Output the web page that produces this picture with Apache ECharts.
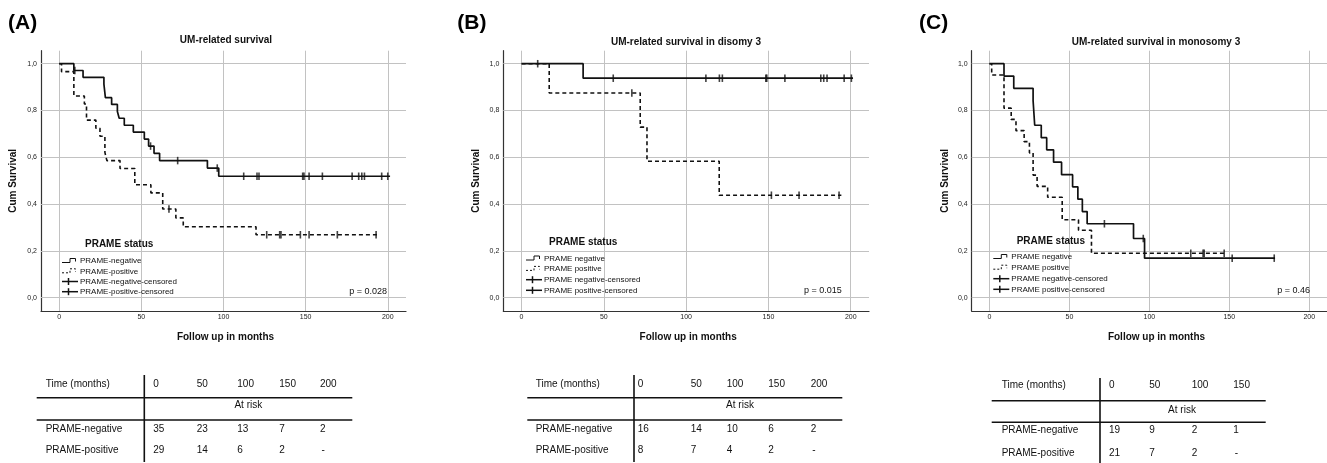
<!DOCTYPE html>
<html><head><meta charset="utf-8">
<script src="https://cdn.jsdelivr.net/npm/echarts@6/dist/echarts.min.js"></script>
<style>html,body{margin:0;padding:0;background:#fff}#c{width:1327px;height:463px}</style>
</head><body><div id="c"></div>
<script>
// ---------- data ----------
const xTicks = [0, 50, 100, 150, 200];
const yTicks = [0, 0.2, 0.4, 0.6, 0.8, 1.0];
const panelLabels = ['(A)', '(B)', '(C)'];
const panelTitles = ['UM-related survival', 'UM-related survival in disomy 3', 'UM-related survival in monosomy 3'];
const pValues = ['p = 0.028', 'p = 0.015', 'p = 0.46'];
const yAxisName = 'Cum Survival';
const xAxisName = 'Follow up in months';
const legendTitle = 'PRAME status';
const legendNamesA = ['PRAME-negative', 'PRAME-positive', 'PRAME-negative-censored', 'PRAME-positive-censored'];
const legendNamesBC = ['PRAME negative', 'PRAME positive', 'PRAME negative-censored', 'PRAME positive-censored'];

// Panel A
const aNegTime = [0, 8.9, 14.5, 27.2, 28.1, 31.9, 35.4, 36.5, 39.6, 45.1, 51.8, 54.4, 57.7, 61.1, 90.2, 97.1, 201.4];
const aNegSurv = [1, 0.971, 0.942, 0.913, 0.855, 0.826, 0.796, 0.767, 0.737, 0.708, 0.678, 0.648, 0.617, 0.586, 0.554, 0.519, 0.519];
const aNegCens = [9.5, 55.6, 72.1, 96.2, 112.3, 120.4, 121.6, 148.2, 149.0, 152.1, 160.2, 178.3, 182.3, 184.2, 185.8, 196.3, 200.0];
const aPosTime = [0, 1.4, 8.9, 15.3, 16.6, 22.3, 24.8, 27.8, 29.0, 37.0, 46.0, 55.8, 63.0, 71.0, 75.5, 119.8, 193.9];
const aPosSurv = [1, 0.966, 0.862, 0.828, 0.759, 0.724, 0.690, 0.621, 0.586, 0.552, 0.483, 0.448, 0.379, 0.341, 0.303, 0.269, 0.269];
const aPosCens = [66.8, 126.3, 134.2, 135.0, 146.8, 152.1, 169.3, 192.9];

// Panel B
const bNegTime = [0, 37.4, 201.4];
const bNegSurv = [1, 0.938, 0.938];
const bNegCens = [9.8, 55.7, 112.0, 120.2, 122.0, 148.4, 149.0, 160.0, 181.8, 183.6, 185.6, 196.0, 200.4];
const bPosTime = [0, 16.8, 72.1, 76.2, 120.1, 194.3];
const bPosSurv = [1, 0.875, 0.729, 0.583, 0.438, 0.438];
const bPosCens = [67.0, 151.8, 168.6, 192.9];

// Panel C
const cNegTime = [0, 9.1, 15.2, 27.3, 28.3, 32.4, 35.8, 40.1, 45.1, 52.0, 55.3, 58.1, 61.1, 90.1, 97.0, 178.6];
const cNegSurv = [1, 0.947, 0.895, 0.842, 0.737, 0.684, 0.632, 0.579, 0.526, 0.474, 0.421, 0.368, 0.316, 0.253, 0.169, 0.169];
const cNegCens = [71.9, 96.2, 151.8, 178.1];
const cPosTime = [0, 1.4, 9.1, 13.6, 16.6, 21.7, 25.0, 27.3, 29.8, 36.4, 45.5, 55.7, 63.8, 147.8];
const cPosSurv = [1, 0.952, 0.810, 0.762, 0.714, 0.667, 0.619, 0.524, 0.476, 0.429, 0.333, 0.288, 0.190, 0.190];
const cPosCens = [125.9, 133.6, 134.3, 146.8];

// At-risk tables
const tableHeader = 'Time (months)';
const atRiskLabel = 'At risk';
const rowLabels = ['PRAME-negative', 'PRAME-positive'];
const tableTimesA = ['0', '50', '100', '150', '200'];
const riskNegA = ['35', '23', '13', '7', '2'];
const riskPosA = ['29', '14', '6', '2', '-'];
const tableTimesB = ['0', '50', '100', '150', '200'];
const riskNegB = ['16', '14', '10', '6', '2'];
const riskPosB = ['8', '7', '4', '2', '-'];
const tableTimesC = ['0', '50', '100', '150'];
const riskNegC = ['19', '9', '2', '1'];
const riskPosC = ['21', '7', '2', '-'];

// ---------- layout ----------
const FONT = '"Liberation Sans", Arial, sans-serif';
const INK = '#111';
const panels = [
  { neg: [aNegTime, aNegSurv, aNegCens], pos: [aPosTime, aPosSurv, aPosCens], legend: legendNamesA,
    table: { times: tableTimesA, neg: riskNegA, pos: riskPosA },
    L: { gl: 41, gw: 365, lab: [8, 23.3], ttl: [226, 40.7], yName: 13.3, xName: 337,
         leg: { tx: 85, ty: 244, ix: 62, rows: [261, 271.3, 281.5, 291.7] }, p: [387, 292],
         tbl: { lx: 45.7, vx: 144.3, vy0: 375, vy1: 462, h0: 36.7, h1: 352.3, cols: [153.3, 196.7, 237.3, 279.3, 320], ar: 248.3,
                ys: [384.3, 397.7, 405.7, 420, 429, 450.3] } } },
  { neg: [bNegTime, bNegSurv, bNegCens], pos: [bPosTime, bPosSurv, bPosCens], legend: legendNamesBC,
    table: { times: tableTimesB, neg: riskNegB, pos: riskPosB },
    L: { gl: 503.3, gw: 365.7, lab: [457.3, 23.3], ttl: [686, 42.3], yName: 476.7, xName: 337,
         leg: { tx: 549, ty: 242.3, ix: 526, rows: [258.5, 268.9, 279.7, 290.3] }, p: [841.7, 290.5],
         tbl: { lx: 535.7, vx: 634, vy0: 375, vy1: 462, h0: 527.3, h1: 842.3, cols: [637.7, 690.7, 726.7, 768.3, 810.7], ar: 740,
                ys: [384.6, 397.7, 405.7, 420, 429, 450.7] } } },
  { neg: [cNegTime, cNegSurv, cNegCens], pos: [cPosTime, cPosSurv, cPosCens], legend: legendNamesBC,
    table: { times: tableTimesC, neg: riskNegC, pos: riskPosC },
    L: { gl: 971.7, gw: 365.6, lab: [919, 23.3], ttl: [1156, 42], yName: 945, xName: 337,
         leg: { tx: 1016.7, ty: 241, ix: 993.3, rows: [257, 267.7, 278.7, 289.3] }, p: [1310, 291],
         tbl: { lx: 1001.7, vx: 1100, vy0: 378, vy1: 463, h0: 991.7, h1: 1265.7, cols: [1109, 1149.3, 1191.7, 1233.3], ar: 1182,
                ys: [385.7, 400.7, 410, 422.3, 430.7, 453.3] } } }
];
const GRID_TOP = 50.7, GRID_H = 260.3;
const X_MIN = -11.1, X_MAX = 211.1, Y_MIN = -0.0568, Y_MAX = 1.0556;

// ---------- helpers ----------
function survAt(T, S, t) { let s = S[0]; for (let i = 0; i < T.length; i++) { if (T[i] <= t) s = S[i]; } return s; }
function pairs(T, S) { return T.map((t, i) => [t, S[i]]); }
function censorPts(T, S, C) { return C.map(t => [t, survAt(T, S, t)]); }
function txt(x, y, text, size, o) {
  o = o || {};
  const al = o.align || 'left';
  return { type: 'text', x: x, y: y, rotation: o.rot || 0, silent: true, z: 10,
    style: { text: text, font: (o.bold ? 'bold ' : '') + size + 'px ' + FONT, fill: o.fill || INK,
      align: al, verticalAlign: 'middle', textAlign: al, textVerticalAlign: 'middle' } };
}
function ln(x1, y1, x2, y2, w, dash) {
  return { type: 'line', silent: true, z: 10, shape: { x1, y1, x2, y2 }, style: { stroke: INK, lineWidth: w || 1, lineDash: dash || null } };
}
function pl(points, w, dash) {
  return { type: 'polyline', silent: true, z: 10, shape: { points }, style: { stroke: INK, fill: null, lineWidth: w || 1, lineDash: dash || null } };
}

const grids = [], xAxes = [], yAxes = [], series = [], graphics = [];
panels.forEach((P, i) => {
  const L = P.L;
  grids.push({ left: L.gl, top: GRID_TOP, width: L.gw, height: GRID_H, containLabel: false });
  xAxes.push({ type: 'value', gridIndex: i, min: X_MIN, max: X_MAX,
    axisLine: { show: true, onZero: false, lineStyle: { color: '#333', width: 1.2 } },
    axisTick: { show: false, customValues: xTicks },
    axisLabel: { customValues: xTicks, fontSize: 7, color: '#222', margin: 3, fontFamily: FONT },
    splitLine: { show: false } });
  yAxes.push({ type: 'value', gridIndex: i, min: Y_MIN, max: Y_MAX,
    axisLine: { show: true, onZero: false, lineStyle: { color: '#333', width: 1.2 } },
    axisTick: { show: false, customValues: yTicks },
    axisLabel: { customValues: yTicks, fontSize: 7, color: '#222', margin: 4, fontFamily: FONT,
      formatter: v => v.toFixed(1).replace('.', ',') },
    splitLine: { show: false } });
  const [nT, nS, nC] = P.neg, [pT, pS, pC] = P.pos;
  series.push({ type: 'line', xAxisIndex: i, yAxisIndex: i, step: 'end', showSymbol: false, z: 3, silent: true,
    data: pairs(nT, nS), lineStyle: { color: '#111', width: 1.7, type: 'solid' },
    markLine: { silent: true, z: 1, symbol: ['none', 'none'], label: { show: false }, animation: false,
      lineStyle: { color: '#c2c2c2', width: 1, type: 'solid' }, emphasis: { disabled: true },
      data: xTicks.map(v => ({ xAxis: v })).concat(yTicks.map(v => ({ yAxis: v }))) } });
  series.push({ type: 'line', xAxisIndex: i, yAxisIndex: i, step: 'end', showSymbol: false, z: 3, silent: true,
    data: pairs(pT, pS), lineStyle: { color: '#111', width: 1.6, type: [4, 3] } });
  series.push({ type: 'scatter', xAxisIndex: i, yAxisIndex: i, z: 4, silent: true, symbol: 'rect', symbolSize: [1.6, 7.5],
    itemStyle: { color: '#111' }, data: censorPts(nT, nS, nC) });
  series.push({ type: 'scatter', xAxisIndex: i, yAxisIndex: i, z: 4, silent: true, symbol: 'rect', symbolSize: [1.6, 7.5],
    itemStyle: { color: '#111' }, data: censorPts(pT, pS, pC) });

  // texts
  graphics.push(txt(L.lab[0], L.lab[1], panelLabels[i], 21, { bold: true, fill: '#000' }));
  graphics.push(txt(L.ttl[0], L.ttl[1], panelTitles[i], 10, { bold: true, align: 'center' }));
  graphics.push(txt(L.yName, GRID_TOP + GRID_H / 2, yAxisName, 10, { bold: true, align: 'center', rot: Math.PI / 2 }));
  graphics.push(txt(L.gl + L.gw / 2 + 2, L.xName, xAxisName, 10, { bold: true, align: 'center' }));
  graphics.push(txt(L.p[0], L.p[1], pValues[i], 9, { align: 'right' }));

  // legend
  const G = L.leg, ix = G.ix;
  graphics.push(txt(G.tx, G.ty, legendTitle, 10, { bold: true }));
  P.legend.forEach((name, k) => {
    const y = G.rows[k];
    graphics.push(txt(ix + 18, y, name, 8));
    if (k === 0) graphics.push(pl([[ix, y + 1.5], [ix + 8, y + 1.5], [ix + 8, y - 2.5], [ix + 13.5, y - 2.5], [ix + 13.5, y + 0.5]], 1));
    else if (k === 1) graphics.push(pl([[ix, y + 1.5], [ix + 8, y + 1.5], [ix + 8, y - 2.5], [ix + 13.5, y - 2.5], [ix + 13.5, y + 0.5]], 1, [2, 2]));
    else { graphics.push(ln(ix, y, ix + 16, y, 1.5)); graphics.push(ln(ix + 6.5, y - 3.5, ix + 6.5, y + 3.5, 1.5)); }
  });

  // table
  const T = L.tbl, tb = P.table, ys = T.ys;
  graphics.push(ln(T.vx, T.vy0, T.vx, T.vy1, 1.6));
  graphics.push(ln(T.h0, ys[1], T.h1, ys[1], 1.6));
  graphics.push(ln(T.h0, ys[3], T.h1, ys[3], 1.6));
  graphics.push(txt(T.lx, ys[0], tableHeader, 10));
  graphics.push(txt(T.ar, ys[2], atRiskLabel, 10, { align: 'center' }));
  graphics.push(txt(T.lx, ys[4], rowLabels[0], 10));
  graphics.push(txt(T.lx, ys[5], rowLabels[1], 10));
  tb.times.forEach((t, k) => {
    graphics.push(txt(T.cols[k], ys[0], t, 10));
    graphics.push(txt(T.cols[k], ys[4], tb.neg[k], 10));
    graphics.push(txt(T.cols[k] + (tb.pos[k] === '-' ? 1.5 : 0), ys[5], tb.pos[k], 10));
  });
});

const chart = echarts.init(document.getElementById('c'), null, { renderer: 'canvas' });
chart.setOption({
  animation: false,
  backgroundColor: '#ffffff',
  textStyle: { fontFamily: FONT },
  grid: grids, xAxis: xAxes, yAxis: yAxes, series: series,
  graphic: { elements: graphics }
});
</script>
</body></html>
